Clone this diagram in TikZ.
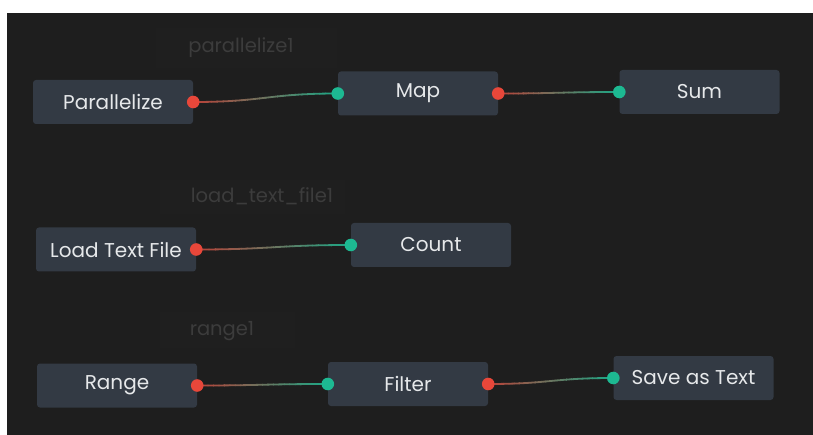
\documentclass[tikz,border=0pt]{standalone}
\usepackage{fontspec}
\setmainfont{Poppins}
\usetikzlibrary{calc}

\definecolor{canvas}{HTML}{1E1E1E}
\definecolor{groupbg}{HTML}{1F1F1F}
\definecolor{blockfill}{HTML}{333A44}
\definecolor{blocktext}{HTML}{E6E8EA}
\definecolor{grouptext}{HTML}{3C3C3C}
\definecolor{portout}{HTML}{E8473A}
\definecolor{portin}{HTML}{1DB992}
\definecolor{linkout}{HTML}{B8443A}
\definecolor{linkin}{HTML}{1FA584}

\tikzset{
  blk/.style={fill=blockfill, rounded corners=3pt, minimum width=160pt,
    minimum height=44pt, inner sep=0pt, text=blocktext,
    font=\fontsize{20}{24}\selectfont},
  grp/.style={text=grouptext, inner sep=0pt, font=\fontsize{19.5}{23}\selectfont},
  grpbox/.style={fill=groupbg},
}

% wire from the output port of #1 to the input port of #2, colour blended along its length
\newcommand\wire[2]{%
  \foreach \k in {0,...,23}{%
    \pgfmathsetmacro\pc{100-\k*100/23}%
    \begin{scope}
      \path let \p1=(#1.east), \p2=(#2.west) in
        coordinate (cA) at ({\x1+\k*(\x2-\x1)/24-0.4pt}, {\y1+60pt})
        coordinate (cB) at ({\x1+(\k+1)*(\x2-\x1)/24+0.4pt}, {\y1-60pt});
      \clip (cA) rectangle (cB);
      \draw[line width=1.8pt, color=linkout!\pc!linkin]
        (#1.east) to[out=0, in=180, looseness=1.25] (#2.west);
    \end{scope}
  }%
}

\begin{document}
\begin{tikzpicture}[x=1pt, y=-1pt]
  \useasboundingbox (0,0) rectangle (813,435);
  \fill[white] (0,0) rectangle (813,435);
  \fill[canvas] (7,13) rectangle (813,435);

  % group panels and their titles
  \fill[grpbox] (156,28) rectangle (337,68);
  \fill[grpbox] (160,180) rectangle (345,214);
  \fill[grpbox] (160,312) rectangle (295,348);
  \node[grp] (g1) at (241,48) {parallelize1};
  \node[grp] (g2) at (262,196) {load\_text\_file1};
  \node[grp] (g3) at (222,331) {range1};

  % blocks
  \node[blk] (par)  at (113,102)   {Parallelize};
  \node[blk] (map)  at (418,93.5)  {Map};
  \node[blk] (sum)  at (699.5,92)  {Sum};
  \node[blk] (load) at (116,249.5) {Load Text File};
  \node[blk] (cnt)  at (431,245)   {Count};
  \node[blk] (rng)  at (117,385.5) {Range};
  \node[blk] (flt)  at (408,384)   {Filter};
  \node[blk] (save) at (693.5,378) {Save as Text};

  % wires
  \wire{par}{map}
  \wire{map}{sum}
  \wire{load}{cnt}
  \wire{rng}{flt}
  \wire{flt}{save}

  % ports
  \foreach \n in {par,map,load,rng,flt}{\fill[portout] (\n.east) circle (6.3pt);}
  \foreach \n in {map,sum,cnt,flt,save}{\fill[portin] (\n.west) circle (6.3pt);}
\end{tikzpicture}
\end{document}
